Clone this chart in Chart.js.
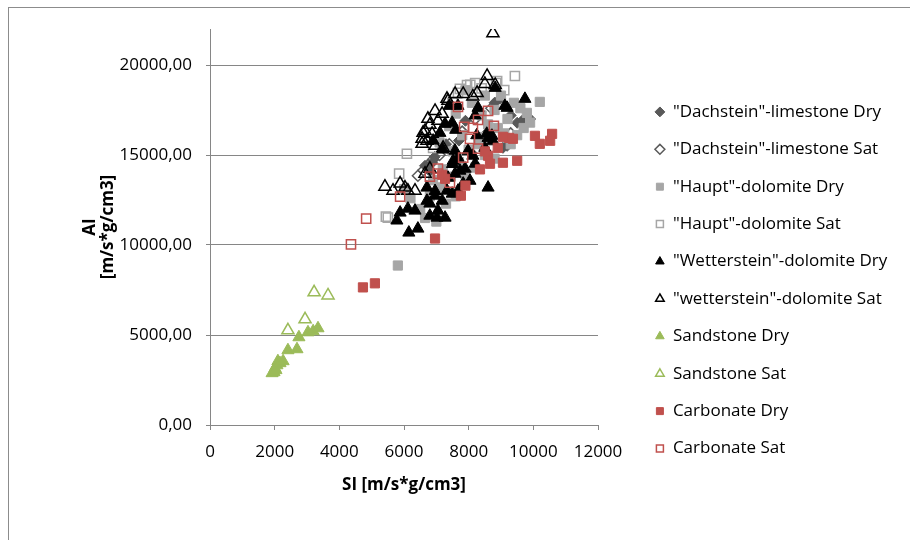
<!DOCTYPE html>
<html>
<head>
<meta charset="utf-8">
<script src="https://cdn.jsdelivr.net/npm/chart.js@4"></script>
<style>
  html, body { margin: 0; padding: 0; background: #fff; }
  #frame { position: absolute; left: 8px; top: 7px; width: 1000px; height: 1000px; border: 1px solid #8c8c8c; }
  #graphCanvas { position: absolute; left: 0; top: 0; }
</style>
</head>
<body>
<div id="frame"></div>
<canvas id="graphCanvas" width="910" height="540"></canvas>
<script>
// series names in legend order
var seriesNames = ['"Dachstein"-limestone Dry', '"Dachstein"-limestone Sat', '"Haupt"-dolomite Dry', '"Haupt"-dolomite Sat',
  '"Wetterstein"-dolomite Dry', '"wetterstein"-dolomite Sat', 'Sandstone Dry', 'Sandstone Sat', 'Carbonate Dry', 'Carbonate Sat'];

// [SI, AI] pairs
var dachsteinDry = [[8970,18120],[9500,16790],[9650,16900],[9060,15400],[9190,15510],[6650,14400],[6870,14570],[6950,14900],
  [7300,15600],[7900,16900],[8300,17400],[8600,16300],[9300,17200],[7700,15800],[8100,15100],[6800,14100],[9900,17000],[8800,17900]];
var dachsteinSat = [[6430,13850],[6600,14150],[6750,14450],[6900,14750],[7100,15000],[7400,15600],[7800,16300],[8200,17000],
  [8700,17600],[9300,16200]];
var hauptDry = [[5810,8860],[10200,17950],[9800,17340],[6500,12000],[6650,11500],[6800,12700],[7000,11300],[7100,13200],
  [7300,12300],[7450,13800],[7600,12700],[7200,14200],[7700,14600],[7900,13900],[8000,15300],[8200,14300],[7500,15200],
  [7800,16100],[8300,16000],[8500,15000],[8700,15800],[8900,16500],[9100,16200],[9300,15600],[9500,16100],[8400,17200],
  [8800,17500],[9200,17000],[9600,17600],[8100,17900],[8500,18300],[7900,18600],[8600,16700],[9000,18300],[7400,16600],
  [7100,15700],[6900,13600],[9700,16500],[8300,15600],[7600,17300],[8800,14800],[9400,17900],[6200,12600],[6000,13100],[9900,16800]];
var hauptSat = [[5440,11580],[6090,15070],[5850,13960],[5500,11520],[9430,19390],[8850,19000],[7950,18890],[8050,18900],
  [7670,18450],[8880,19110],[7730,18670],[8400,18700],[9100,18600],[7500,17900],[6900,15400],[8200,19000]];
var wettersteinDry = [[5880,11800],[6120,12020],[6340,11910],[5780,11360],[6150,10690],[6430,10910],[6710,12460],[6800,11630],
  [7020,11520],[7270,11520],[6960,12740],[7180,12460],[6710,13190],[7330,13020],[7490,12850],[7670,13020],[7830,13410],
  [8040,13570],[8200,14515],[8600,13190],[7730,14130],[7520,14680],[7360,13740],[7580,13960],[7890,14240],[7670,14850],
  [7980,15230],[8600,15950],[8750,15790],[7580,15240],[7500,14500],[8130,14960],[8500,15400],[7270,16730],[7600,16400],
  [7670,17730],[7400,17730],[8820,18730],[9120,17730],[9740,18120],[9190,17620],[8290,17620],[8200,17200],[8720,16070],
  [8560,16180],[8250,16100],[7050,11910],[6800,12300],[6960,13000],[7490,16790],[7110,16230],[6900,15800],[7200,15300]];
var wettersteinSat = [[8750,21770],[7330,18120],[7580,18390],[7830,18390],[6960,17450],[7180,17290],[6740,17010],[7050,16900],
  [6800,16680],[6590,16230],[6870,16180],[6560,15900],[6710,15790],[8500,18950],[8820,18890],[8260,18450],[7360,18010],
  [8130,18250],[6650,16340],[6560,15620],[6960,15510],[5660,13020],[5880,13410],[6030,13190],[6120,13020],[6340,13020],
  [6650,13960],[6800,14240],[7210,15400],[5410,13240],[8570,19390]];
var sandstoneDry = [[1920,2880],[1980,2935],[2010,3160],[2040,3050],[2070,3320],[2100,3545],[2165,3435],[2260,3545],
  [2410,4155],[2690,4210],[2750,4875],[3030,5150],[3190,5210],[3340,5375]];
var sandstoneSat = [[2410,5260],[2940,5870],[3220,7370],[3650,7200]];
var carbonateDry = [[4730,7645],[5100,7870],[6960,10360],[7760,12740],[7270,13680],[7180,13900],[8600,14960],[9060,14570],
  [9500,14680],[9250,15950],[9060,16010],[10050,16065],[10200,15620],[10580,16175],[10520,15790],[8660,14515],[8900,15400],
  [9370,15900],[8350,14200],[8500,15200],[7900,13300]];
var carbonateSat = [[4360,10030],[4830,11470],[5880,12690],[7050,13960],[7420,13460],[7830,14850],[7670,17670],[7860,16560],
  [8040,15900],[8290,15350],[8600,17450],[8290,16950],[8780,16620],[8130,16510],[7050,14240],[6800,13800]];

var xTicks = [0, 2000, 4000, 6000, 8000, 10000, 12000];
var yTicks = [0, 5000, 10000, 15000, 20000];

var seriesData = [dachsteinDry, dachsteinSat, hauptDry, hauptSat, wettersteinDry, wettersteinSat,
  sandstoneDry, sandstoneSat, carbonateDry, carbonateSat];
var styles = [
  {shape: 'rectRot', color: '#595959', open: false, r: 5.5},
  {shape: 'rectRot', color: '#595959', open: true, r: 5.5},
  {shape: 'rect', color: '#a6a6a6', open: false, r: 6.5},
  {shape: 'rect', color: '#a6a6a6', open: true, r: 6.5},
  {shape: 'triangle', color: '#000000', open: false, r: 7},
  {shape: 'triangle', color: '#000000', open: true, r: 7},
  {shape: 'triangle', color: '#9bbb59', open: false, r: 7},
  {shape: 'triangle', color: '#9bbb59', open: true, r: 7},
  {shape: 'rect', color: '#c0504d', open: false, r: 6.5},
  {shape: 'rect', color: '#c0504d', open: true, r: 6.5}
];

var datasets = [];
for (var i in seriesData) {
  var st = styles[i];
  datasets.push({
    label: seriesNames[i],
    data: seriesData[i].map(function(p){ return {x: p[0], y: p[1]}; }),
    pointStyle: st.shape,
    pointRadius: st.r,
    pointHoverRadius: st.r,
    backgroundColor: st.open ? 'rgba(255,255,255,0)' : st.color,
    borderColor: st.color,
    borderWidth: st.open ? 1.5 : 1,
    order: seriesData.length - i
  });
}

var font = 'Open Sans';
var legendPlace = {
  id: 'legendPlace',
  beforeInit: function(chart){
    var fit = chart.legend.fit;
    chart.legend.fit = function(){ fit.call(this); this.width = 312; };
  },
  afterLayout: function(chart){
    chart.legend.left = 635;
    chart.legend.top = 83;
  }
};

var ctx = document.getElementById('graphCanvas');
var chart = new Chart(ctx, {
  type: 'scatter',
  data: {datasets: datasets},
  plugins: [legendPlace],
  options: {
    responsive: false,
    animation: false,
    devicePixelRatio: 1,
    layout: {padding: {left: 60, top: 29, bottom: 15, right: 0}},
    plugins: {
      tooltip: {enabled: false},
      legend: {
        position: 'right',
        align: 'start',
        labels: {
          usePointStyle: true,
          boxWidth: 9,
          boxHeight: 7,
          padding: 20.4,
          color: '#000',
          font: {family: font, size: 17},
          sort: function(a, b){ return a.datasetIndex - b.datasetIndex; }
        }
      }
    },
    scales: {
      x: {
        type: 'linear',
        min: 0, max: 12000,
        afterFit: function(s){ s.height = 100; },
        afterBuildTicks: function(s){ s.ticks = xTicks.map(function(v){ return {value: v}; }); },
        ticks: {color: '#000', font: {family: font, size: 17}, padding: 12, callback: function(v){ return v; }},
        grid: {drawOnChartArea: false, drawTicks: true, tickLength: 5, color: '#868686'},
        border: {color: '#868686'},
        title: {display: true, text: 'SI [m/s*g/cm3]', color: '#000', font: {family: font, size: 17, weight: 'bold'}, padding: {top: 0, bottom: 30}}
      },
      y: {
        type: 'linear',
        min: 0, max: 22000,
        afterFit: function(s){ s.width = 150; },
        afterBuildTicks: function(s){ s.ticks = yTicks.map(function(v){ return {value: v}; }); },
        ticks: {color: '#000', font: {family: font, size: 17}, padding: 14, callback: function(v){ return v.toFixed(2).replace('.', ','); }},
        grid: {drawTicks: true, tickLength: 4, color: '#868686'},
        border: {color: '#868686'},
        title: {display: true, text: ['AI', '[m/s*g/cm3]'], color: '#000', font: {family: font, size: 17, weight: 'bold', lineHeight: 1.1}, padding: {top: 20.6, bottom: 0}}
      }
    }
  }
});
</script>
</body>
</html>
